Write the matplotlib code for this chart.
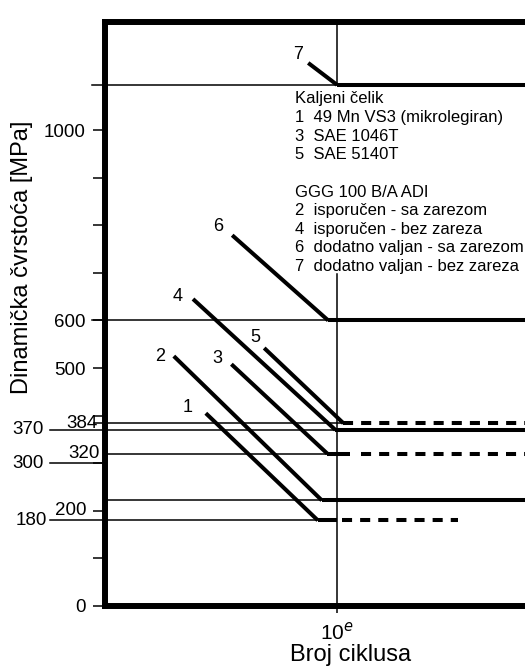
import numpy as np
import matplotlib
matplotlib.use("Agg")
import matplotlib.pyplot as plt

plt.rcParams['font.family'] = ['Liberation Sans', 'DejaVu Sans']

# ------------------------------------------
# data (N as log10 of cycles, S in MPa)
# ------------------------------------------
curve_ids = ['1', '2', '3', '4', '5', '6', '7']
n_start = [4.36, 3.96, 4.68, 4.20, 5.09, 4.69, 5.64]
s_start = [405, 525, 508, 645, 542, 779, 1141]
n_knee = [5.76, 5.81, 5.88, 5.98, 6.08, 5.89, 6.00]
s_limit = [180, 222, 320, 370, 384, 600, 1095]

# solid part of the endurance limit, then the dashed part (None = none)
solid_end = [6.00, 9.0, 6.16, 9.0, 6.08, 9.0, 9.0]
dash_start = [6.06, None, 6.30, None, 6.08, None, None]
dash_end = [7.51, None, 9.0, None, 9.0, None, None]

# thin reference lines: level, where they start on the left
ref_levels = [180, 222, 300, 320, 370, 384, 600, 1095]
ref_left = [2.41, 3.10, 2.41, 3.10, 2.41, 3.10, 2.94, 2.94]
ref_right = [5.76, 5.81, 3.10, 5.88, 5.98, 6.08, 5.89, 6.00]

extra_labels = ['384', '370', '320', '300', '200', '180']
extra_values = [384, 370, 320, 300, 200, 180]

label_offsets = [(-18, 6), (-14, 0), (-14, 6), (-15, 3), (-9, 11), (-14, 9), (-10, 8)]

legend_lines = [
    "Kaljeni čelik",
    "1  49 Mn VS3 (mikrolegiran)",
    "3  SAE 1046T",
    "5  SAE 5140T",
    "",
    "GGG 100 B/A ADI",
    "2  isporučen - sa zarezom",
    "4  isporučen - bez zareza",
    "6  dodatno valjan - sa zarezom",
    "7  dodatno valjan - bez zareza",
]

# ------------------------------------------
# figure
# ------------------------------------------
fig = plt.figure(figsize=(5.25, 6.68), dpi=100)
ax = fig.add_axes([0.2, 1 - 606 / 668, 0.8, (606 - 22) / 668])
ax.set_xscale('log')
ax.set_xlim(10 ** 3.1, 10 ** 8.35)
ax.set_ylim(0, 1227)

thick = 2.9
thin = 1.1

for i in range(len(curve_ids)):
    ax.plot([10 ** n_start[i], 10 ** n_knee[i]], [s_start[i], s_limit[i]],
            color='black', lw=thick, solid_capstyle='butt', zorder=4)
    ax.plot([10 ** n_knee[i], 10 ** solid_end[i]], [s_limit[i], s_limit[i]],
            color='black', lw=thick, solid_capstyle='butt', zorder=4)
    if dash_start[i] is not None:
        ax.plot([10 ** dash_start[i], 10 ** dash_end[i]], [s_limit[i], s_limit[i]],
                color='black', lw=thick, linestyle=(0, (2.5, 2.0)),
                dash_capstyle='butt', zorder=4)
    ax.annotate(curve_ids[i], (10 ** n_start[i], s_start[i]),
                xytext=label_offsets[i], textcoords='offset pixels',
                ha='center', va='center', fontsize=13)

for lev, xl, xr in zip(ref_levels, ref_left, ref_right):
    ax.plot([10 ** xl, 10 ** xr], [lev, lev], color='black', lw=thin,
            clip_on=False, zorder=3)

# vertical line at 10^6, broken where the legend sits
ax.plot([1e6, 1e6], [0, 697], color='black', lw=thin, zorder=3)
ax.plot([1e6, 1e6], [1095, 1227], color='black', lw=thin, zorder=3)

# axes style
for side in ['left', 'top', 'bottom']:
    ax.spines[side].set_linewidth(4.3)
ax.spines['right'].set_visible(False)

yt = list(range(0, 1001, 100)) + [384]
ax.set_yticks(yt)
ax.set_yticklabels(['0', '', '', '', '', '500', '600', '', '', '', '1000', ''])
ax.tick_params(axis='y', length=9, width=1.1, pad=5, labelsize=13.5)
ax.set_xticks([1e6])
ax.set_xticklabels(['10$^e$'])
ax.xaxis.set_minor_locator(matplotlib.ticker.NullLocator())
ax.tick_params(axis='x', length=5, width=1.1, pad=6, labelsize=15)

# extra value labels on the left
tr = ax.get_yaxis_transform()
xpos = {'384': -0.017, '370': -0.147, '320': -0.012, '300': -0.147,
        '200': -0.043, '180': -0.138}
for lab, val in zip(extra_labels, extra_values):
    ax.text(xpos[lab], val, lab, transform=tr, ha='right', va='center',
            fontsize=13.5)

# axis titles placed as in the reference
fig.text(22 / 525, 1 - 257 / 668, "Dinamička čvrstoća [MPa]", rotation=90,
         ha='center', va='center', fontsize=17)
fig.text(351 / 525, 1 - 655 / 668, "Broj ciklusa", ha='center', va='center',
         fontsize=17)

# legend text block
for k, line in enumerate(legend_lines):
    fig.text(295 / 525, 1 - (99 + k * 18.6) / 668, line, ha='left',
             va='center', fontsize=12)

fig.savefig("out.png", dpi=100)
